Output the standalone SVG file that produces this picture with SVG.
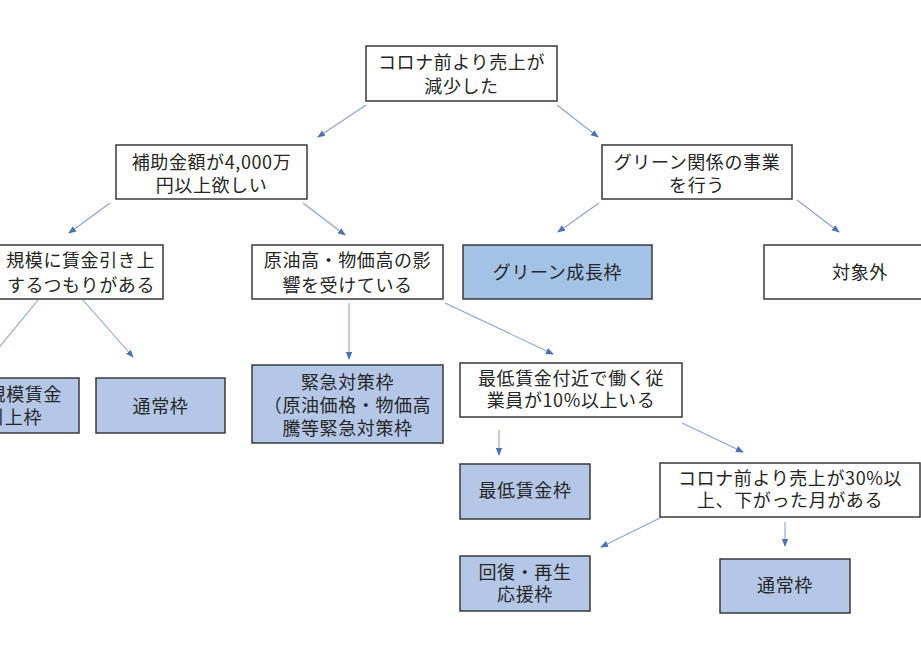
<svg xmlns="http://www.w3.org/2000/svg" width="921" height="651" viewBox="0 0 921 651">
<defs>
<marker id="ah" markerUnits="userSpaceOnUse" markerWidth="8" markerHeight="8" viewBox="0 0 8 8" refX="7" refY="4" orient="auto">
<path d="M0,0.8 L8,4 L0,7.2 Z" fill="#4a72b8"/>
</marker>
<style>
.q{fill:#ffffff;stroke:#3a3a3a;stroke-width:1.5}
.r{fill:#b4c7e7;stroke:#3a3a3a;stroke-width:1.5}
.g{fill:#a3c3e6;stroke:#3a3a3a;stroke-width:1.5}
text{font-family:"Noto Sans CJK JP","Noto Sans",sans-serif;font-size:18px;fill:#262626;text-anchor:middle;letter-spacing:0.6px}
.c line{stroke:#8aa4cf;stroke-width:1.1;marker-end:url(#ah)}
</style>
</defs>
<rect width="921" height="651" fill="#ffffff"/>
<g class="c" id="connectors">
<line x1="366" y1="105" x2="318" y2="137"/>
<line x1="557" y1="105" x2="598" y2="137"/>
<line x1="110" y1="203" x2="69" y2="233"/>
<line x1="303" y1="203" x2="345" y2="235"/>
<line x1="599" y1="203" x2="558" y2="232"/>
<line x1="797" y1="200" x2="839" y2="232"/>
<line x1="38" y1="300" x2="-8" y2="356"/>
<line x1="83" y1="300" x2="133" y2="357"/>
<line x1="349" y1="303" x2="349" y2="359"/>
<line x1="445" y1="303" x2="553" y2="354"/>
<line x1="499" y1="430" x2="499" y2="455"/>
<line x1="682" y1="423" x2="743" y2="452"/>
<line x1="660" y1="518" x2="601" y2="547"/>
<line x1="785" y1="522" x2="785" y2="546"/>
</g>
<g id="n-root"><rect class="q" x="366" y="46" width="191" height="55"/><text x="461.5" y="69">コロナ前より売上が</text><text x="461.5" y="93">減少した</text></g>
<g id="n-hojo"><rect class="q" x="116" y="145" width="191" height="54"/><text x="211.5" y="169">補助金額が4,000万</text><text x="211.5" y="192">円以上欲しい</text></g>
<g id="n-green-q"><rect class="q" x="602" y="145" width="190" height="54"/><text x="697" y="169">グリーン関係の事業</text><text x="697" y="192">を行う</text></g>
<g id="n-kibo"><rect class="q" x="-40" y="245" width="203" height="54"/><text x="155" y="267" style="text-anchor:end">規模に賃金引き上</text><text x="155" y="292" style="text-anchor:end">するつもりがある</text></g>
<g id="n-genyu"><rect class="q" x="252" y="245" width="191" height="54"/><text x="347.5" y="267">原油高・物価高の影</text><text x="347.5" y="292">響を受けている</text></g>
<g id="n-green"><rect class="g" x="463" y="245" width="189" height="54"/><text x="557.5" y="279">グリーン成長枠</text></g>
<g id="n-taisyogai"><rect class="q" x="764" y="245" width="200" height="54"/><text x="860" y="279">対象外</text></g>
<g id="n-daikibo"><rect class="r" x="-50" y="378" width="129" height="55"/><text x="62" y="401" style="text-anchor:end">規模賃金</text><text x="42" y="424" style="text-anchor:end">引上枠</text></g>
<g id="n-tsujo1"><rect class="r" x="96" y="378" width="129" height="55"/><text x="160.5" y="413">通常枠</text></g>
<g id="n-kinkyu"><rect class="r" x="252" y="365" width="191" height="78"/><text x="347.5" y="389">緊急対策枠</text><text x="347.5" y="412">（原油価格・物価高</text><text x="347.5" y="435">騰等緊急対策枠</text></g>
<g id="n-saitei-q"><rect class="q" x="460" y="363" width="222" height="54"/><text x="571" y="385">最低賃金付近で働く従</text><text x="571" y="407">業員が10%以上いる</text></g>
<g id="n-saitei"><rect class="r" x="460" y="464" width="130" height="55"/><text x="525" y="497">最低賃金枠</text></g>
<g id="n-corona30"><rect class="q" x="660" y="463" width="260" height="54"/><text x="790" y="485">コロナ前より売上が30%以</text><text x="790" y="507">上、下がった月がある</text></g>
<g id="n-kaifuku"><rect class="r" x="460" y="556" width="130" height="55"/><text x="525" y="579">回復・再生</text><text x="525" y="601">応援枠</text></g>
<g id="n-tsujo2"><rect class="r" x="720" y="559" width="130" height="54"/><text x="785" y="592">通常枠</text></g>
</svg>
